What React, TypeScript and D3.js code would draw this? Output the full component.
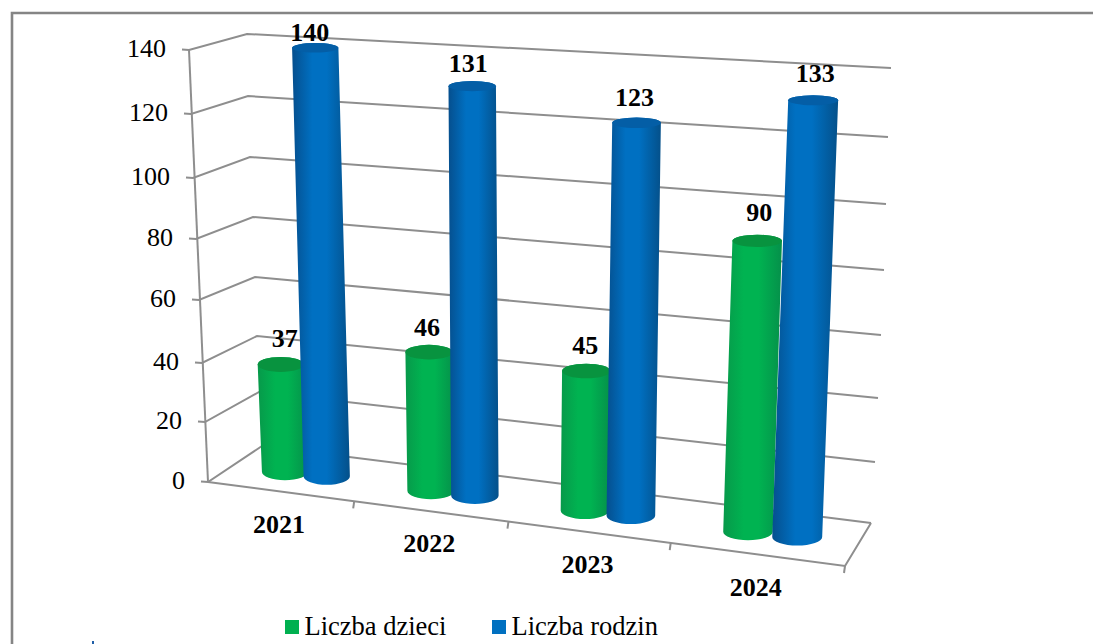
import React from "react";
import * as d3 from "d3";

// ---- data ----
const years = ["2021", "2022", "2023", "2024"];
const dzieci = [37, 46, 45, 90];
const rodziny = [140, 131, 123, 133];
const yTicks = [0, 20, 40, 60, 80, 100, 120, 140];
const seriesNames = ["Liczba dzieci", "Liczba rodzin"];

// ---- layout: perspective box of the 3D chart, measured per value tick ----
const W = 1093, H = 644;
const serif = "'Liberation Serif', 'Times New Roman', serif";
const flX = d3.scaleLinear().domain(yTicks).range([208, 205, 202, 199, 196, 193, 191, 189]);
const flY = d3.scaleLinear().domain(yTicks).range([482, 422, 363, 300, 239, 178, 114, 50]);
const blX = d3.scaleLinear().domain(yTicks).range([262, 259, 257, 255, 253, 250, 248, 247]);
const blY = d3.scaleLinear().domain(yTicks).range([446, 392, 336, 277, 217, 157, 96, 34]);
const brX = d3.scaleLinear().domain(yTicks).range([871, 875, 878, 881, 884, 886, 888, 891]);
const brY = d3.scaleLinear().domain(yTicks).range([523, 462, 398, 335, 270, 204, 137, 68]);
const frX = d3.scaleLinear().domain([0, 140]).range([845, 866]);
const frY = d3.scaleLinear().domain([0, 140]).range([566, 92]);
// fraction along the front edge of each category boundary (perspective spacing)
const catU = d3.scaleLinear().domain([0, 1, 2, 3, 4]).range([0, 0.2295, 0.4717, 0.7264, 1]);

const lerp = (a: number, b: number, t: number) => a + (b - a) * t;
function project(u: number, v: number, h: number): [number, number] {
  const lx = lerp(flX(h), blX(h), v), ly = lerp(flY(h), blY(h), v);
  const rx = lerp(frX(h), brX(h), v), ry = lerp(frY(h), brY(h), v);
  return [lerp(lx, rx, u), lerp(ly, ry, u)];
}

const slotDepth = [0.47, 0.49];
const slotOffset = [0.36, 0.645];
const radius = d3.scaleLinear().domain([0, 1]).range([22.8, 25.2]);
const ryAt = d3.scaleLinear().domain([0, 140]).range([8.5, 4.8]);
// label nudges per category: [green, blue]
const labelDx = [[4, -5.5], [-2, -4], [-1, -2], [2, 2]];
const labelDy = [[-10, -2], [-9, -9], [-10, -12], [-14, -13]];

const colors = [
  { name: "g", edgeL: "#07994a", mid: "#00b351", edgeR: "#05904a", top: "#08933f", legend: "#00b050" },
  { name: "b", edgeL: "#054f8e", mid: "#0070c2", edgeR: "#04508a", top: "#045ea6", legend: "#0070c0" },
];
const grid = "#8e8e8e";

function Bar({ cat, s, value }: { cat: number; s: number; value: number }) {
  const u = catU(cat + slotOffset[s]);
  const [bx, by] = project(u, slotDepth[s], 0);
  const [tx, ty] = project(u, slotDepth[s], value);
  const r = radius(u);
  const ryB = ryAt(0), ryT = ryAt(value);
  const d = `M${tx - r},${ty} L${bx - r},${by} A${r},${ryB} 0 0 0 ${bx + r},${by} L${tx + r},${ty} A${r},${ryT} 0 0 0 ${tx - r},${ty} Z`;
  const c = colors[s];
  return (
    <g>
      <path d={d} fill={`url(#grad-${c.name})`} />
      <ellipse cx={tx} cy={ty} rx={r} ry={ryT} fill={c.top} />
    </g>
  );
}

export default function App() {
  const polyline = (pts: [number, number][]) => d3.line()(pts) as string;
  const lineProps = { fill: "none", stroke: grid, strokeWidth: 2 };
  const labels: { x: number; y: number; text: number }[] = [];
  years.forEach((_, i) => {
    [dzieci[i], rodziny[i]].forEach((val, s) => {
      const u = catU(i + slotOffset[s]);
      const [tx, ty] = project(u, slotDepth[s], val);
      labels.push({ x: tx + labelDx[i][s], y: ty - ryAt(val) + labelDy[i][s], text: val });
    });
  });

  return (
    <svg width={W} height={H} viewBox={`0 0 ${W} ${H}`}
      style={{ position: "fixed", left: 0, top: 0, background: "#fff", fontFamily: serif }}>
      <defs>
        {colors.map((c) => (
          <linearGradient key={c.name} id={`grad-${c.name}`} x1="0" x2="1" y1="0" y2="0">
            <stop offset="0" stopColor={c.edgeL} />
            <stop offset="0.35" stopColor={c.mid} />
            <stop offset="0.6" stopColor={c.mid} />
            <stop offset="1" stopColor={c.edgeR} />
          </linearGradient>
        ))}
      </defs>

      {/* outer frame: only top and left edges are visible */}
      <path d={`M12,${H} L12,13 L${W},13`} fill="none" stroke="#858585" strokeWidth={2.6} />

      {/* walls */}
      {yTicks.map((t) => (
        <path key={t} {...lineProps}
          d={polyline([[flX(t) - 7, flY(t) - 0.5], [flX(t), flY(t)], [blX(t), blY(t)], [brX(t), brY(t)]])} />
      ))}
      <path {...lineProps} d={polyline([[flX(140), flY(140)], [flX(0), flY(0)]])} />
      {/* floor */}
      <path {...lineProps} d={polyline([[flX(0), flY(0)], [frX(0), frY(0)], [brX(0), brY(0)]])} />
      {[1, 2, 3, 4].map((c) => {
        const [x, y] = project(catU(c), 0, 0);
        return <path key={c} {...lineProps} d={polyline([[x, y], [x - 1, y + 7]])} />;
      })}

      {/* value axis labels */}
      {yTicks.map((t) => (
        <text key={t} x={flX(t) - 23} y={flY(t) + 7} textAnchor="end" fontSize={26} fill="#000">{t}</text>
      ))}

      {/* bars */}
      {years.map((y, i) => (
        <g key={y}>
          <Bar cat={i} s={0} value={dzieci[i]} />
          <Bar cat={i} s={1} value={rodziny[i]} />
        </g>
      ))}

      {/* data labels */}
      {labels.map((l, i) => (
        <text key={i} x={l.x} y={l.y} textAnchor="middle" fontSize={26} fontWeight="bold" fill="#000">{l.text}</text>
      ))}

      {/* category labels */}
      {years.map((y, i) => {
        const [x, yy] = project(catU(i + 0.5), 0, 0);
        return <text key={y} x={x - 2} y={yy + 41} textAnchor="middle" fontSize={26} fontWeight="bold" fill="#000">{y}</text>;
      })}

      {/* legend */}
      {seriesNames.map((n, i) => {
        const x = [285, 492][i];
        return (
          <g key={n}>
            <rect x={x} y={620} width={14} height={14} fill={colors[i].legend} />
            <text x={x + 19.5} y={635} fontSize={26.5} fill="#000">{n}</text>
          </g>
        );
      })}
      <rect x={92} y={641} width={2} height={3} fill="#1f5fa8" />
    </svg>
  );
}
